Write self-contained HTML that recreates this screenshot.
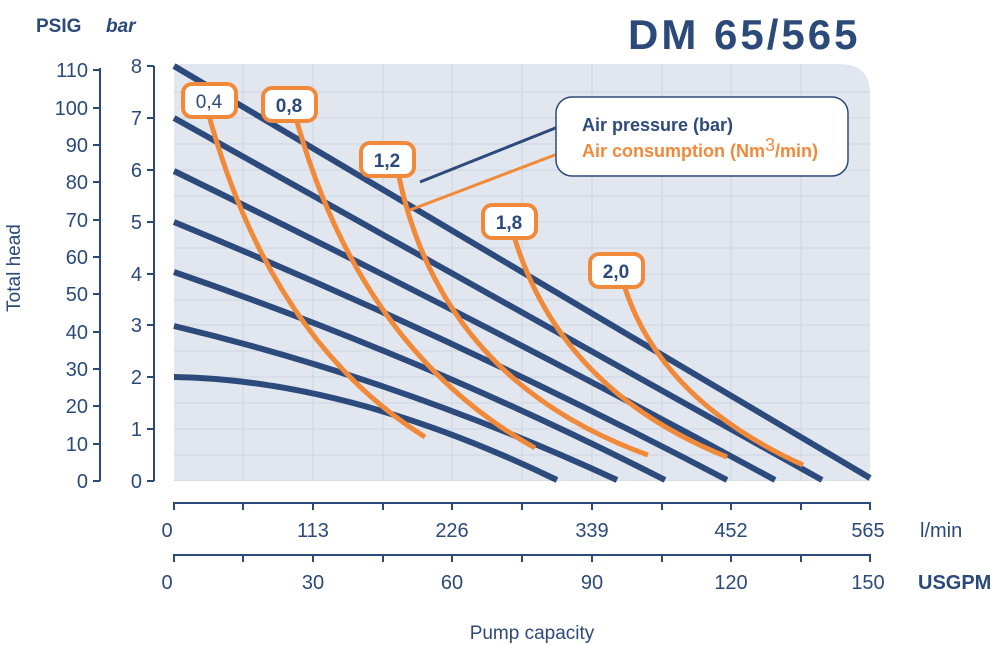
<!DOCTYPE html>
<html><head><meta charset="utf-8"><style>
body{margin:0;background:#fff;}
svg{display:block;font-family:"Liberation Sans","DejaVu Sans",sans-serif;}
</style></head><body>
<svg width="992" height="645" viewBox="0 0 992 645" xmlns="http://www.w3.org/2000/svg">
<defs><clipPath id="pc"><path d="M174 64 H840 Q870 64 870 94 V481 H174Z"/></clipPath></defs>
<path d="M174 64 H840 Q870 64 870 94 V481 H174Z" fill="#e2e7ef"/>
<g stroke="#cfd5df" stroke-width="1" clip-path="url(#pc)">
<path d="M243 64V481M313 64V481M383 64V481M452 64V481M522 64V481M592 64V481M662 64V481M731 64V481M801 64V481"/>
<path d="M174 92H870M174 118H870M174 144H870M174 170H870M174 196H870M174 222H870M174 248H870M174 274H870M174 300H870M174 325H870M174 351H870M174 377H870M174 403H870M174 429H870M174 455H870M174 481H870"/>
</g>
<text x="628" y="49" font-size="42" font-weight="bold" letter-spacing="3" fill="#2b4a7a">DM 65/565</text>
<text x="36" y="32" font-size="19" font-weight="bold" fill="#2b4a7a">PSIG</text>
<text x="106" y="32" font-size="19" font-weight="bold" font-style="italic" fill="#2b4a7a">bar</text>
<g stroke="#2b4a7a" stroke-width="2" fill="none">
<path d="M100 68V481M93 70H100M93 108H100M93 145H100M93 182H100M93 220H100M93 257H100M93 294H100M93 332H100M93 369H100M93 406H100M93 444H100M93 481H100"/>
<path d="M154 66V481M147 66H154M147 118H154M147 170H154M147 222H154M147 274H154M147 325H154M147 377H154M147 429H154M147 481H154"/>
<path d="M174 510V503H870V510M243 503V510M313 503V510M383 503V510M452 503V510M522 503V510M592 503V510M662 503V510M731 503V510M801 503V510"/>
<path d="M174 562V555H870V562M243 555V562M313 555V562M383 555V562M452 555V562M522 555V562M592 555V562M662 555V562M731 555V562M801 555V562"/>
</g>
<g font-size="20" fill="#2b4a7a" text-anchor="end">
<text x="88" y="77">110</text><text x="88" y="115">100</text><text x="88" y="152">90</text><text x="88" y="189">80</text><text x="88" y="227">70</text><text x="88" y="264">60</text><text x="88" y="301">50</text><text x="88" y="339">40</text><text x="88" y="376">30</text><text x="88" y="413">20</text><text x="88" y="451">10</text><text x="88" y="488">0</text>
<text x="142" y="73">8</text><text x="142" y="125">7</text><text x="142" y="177">6</text><text x="142" y="229">5</text><text x="142" y="281">4</text><text x="142" y="332">3</text><text x="142" y="384">2</text><text x="142" y="436">1</text><text x="142" y="488">0</text>
</g>
<text transform="translate(20,268) rotate(-90)" font-size="19" fill="#2b4a7a" text-anchor="middle">Total head</text>
<g font-size="20" fill="#2b4a7a" text-anchor="middle">
<text x="167" y="537">0</text><text x="313" y="537">113</text><text x="452" y="537">226</text><text x="592" y="537">339</text><text x="731" y="537">452</text><text x="868" y="537">565</text>
<text x="167" y="589">0</text><text x="313" y="589">30</text><text x="452" y="589">60</text><text x="592" y="589">90</text><text x="731" y="589">120</text><text x="868" y="589">150</text>
<text x="532" y="639" font-size="19">Pump capacity</text>
</g>
<text x="920" y="537" font-size="20" fill="#2b4a7a">l/min</text>
<text x="918" y="589" font-size="20" font-weight="bold" fill="#2b4a7a">USGPM</text>
<g stroke="#2c4a7c" stroke-width="6" fill="none" stroke-linecap="butt">
<path d="M174 66 L870 478"/>
<path d="M174 118 Q500 300 822 480"/>
<path d="M174 171 Q480 320 775 480"/>
<path d="M174 222 Q460 340 727 480"/>
<path d="M174 272 Q430 360 665 480"/>
<path d="M174 326 Q400 380 617 480"/>
<path d="M174 377 Q350 380 557 480"/>
</g>
<g stroke="#f08a3a" stroke-width="5" fill="none">
<path d="M208 112 Q270 340 425 437"/>
<path d="M296 118 Q360 350 535 448"/>
<path d="M398 172 Q440 380 648 455"/>
<path d="M514 236 Q560 390 727 457"/>
<path d="M624 285 Q660 400 803 465"/>
</g>
<path d="M568 123 L420 182" stroke="#2c4a7c" stroke-width="3"/>
<path d="M568 150 L410 210" stroke="#f08a3a" stroke-width="3"/>
<rect x="556" y="97" width="292" height="79" rx="16" fill="#fff" stroke="#2c4a7c" stroke-width="1.5"/>
<text x="582" y="131" font-size="18" font-weight="bold" fill="#2c4a7c">Air pressure (bar)</text>
<text x="582" y="157" font-size="18" font-weight="bold" fill="#f08a3a">Air consumption (Nm<tspan dy="-6" font-weight="normal">3</tspan><tspan dy="6">/min)</tspan></text>
<g stroke="#f08a3a" stroke-width="4" fill="#fff">
<rect x="183" y="84" width="53" height="33" rx="9"/>
<rect x="263" y="88" width="53" height="33" rx="9"/>
<rect x="361" y="143" width="53" height="33" rx="9"/>
<rect x="483" y="205" width="53" height="33" rx="9"/>
<rect x="590" y="254" width="53" height="33" rx="9"/>
</g>
<g font-size="19" font-weight="bold" fill="#2c4a7c" text-anchor="middle">
<text x="209" y="108" font-weight="normal">0,4</text>
<text x="289" y="112">0,8</text>
<text x="387" y="167">1,2</text>
<text x="509" y="229">1,8</text>
<text x="616" y="278">2,0</text>
</g>
</svg>
</body></html>
